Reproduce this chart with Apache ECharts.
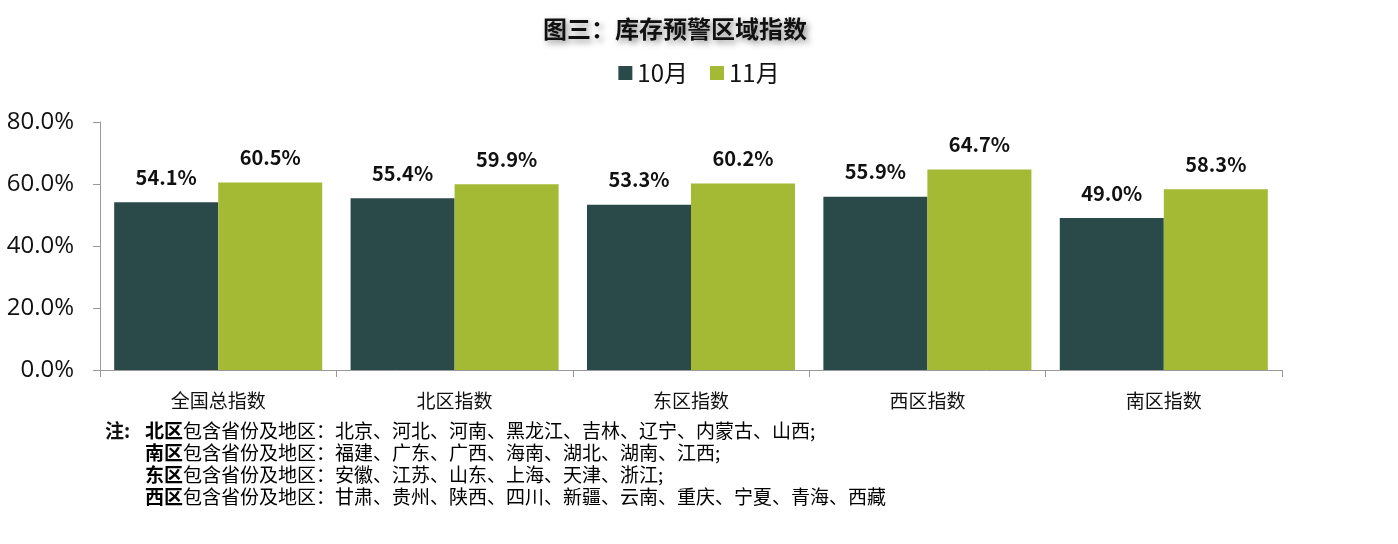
<!DOCTYPE html>
<html><head><meta charset="utf-8">
<script src="https://cdn.jsdelivr.net/npm/echarts@6/dist/echarts.min.js"></script>
<style>html,body{margin:0;padding:0;background:#fff}#c{width:1398px;height:544px}</style>
</head><body><div id="c"></div>
<script>
const categories = ['全国总指数','北区指数','东区指数','西区指数','南区指数'];
const oct = [54.1, 55.4, 53.3, 55.9, 49.0];
const nov = [60.5, 59.9, 60.2, 64.7, 58.3];
const seriesNames = ['10月','11月'];
const titleText = '图三：库存预警区域指数';
const noteLines = [
  ['北区','包含省份及地区：北京、河北、河南、黑龙江、吉林、辽宁、内蒙古、山西;'],
  ['南区','包含省份及地区：福建、广东、广西、海南、湖北、湖南、江西;'],
  ['东区','包含省份及地区：安徽、江苏、山东、上海、天津、浙江;'],
  ['西区','包含省份及地区：甘肃、贵州、陕西、四川、新疆、云南、重庆、宁夏、青海、西藏']
];
const FONT = '"Noto Sans CJK SC","Open Sans",sans-serif';
const chart = echarts.init(document.getElementById('c'));
const labelOpt = {show:true, position:'top', distance:15, fontSize:20, fontWeight:'bold', color:'#111', fontFamily:FONT,
  formatter: p => p.value.toFixed(1) + '%'};
const graphics = [{type:'text', left:105, top:421, style:{text:'注:', font:'bold 19px '+FONT, fill:'#111'}}];
noteLines.forEach((l,i)=>{
  graphics.push({type:'text', left:145, top:421 + i*22, style:{
    text:'{b|'+l[0]+'}{n|'+l[1]+'}',
    rich:{b:{fontWeight:'bold', fontSize:19, fontFamily:FONT, color:'#111'},
          n:{fontSize:19, fontFamily:FONT, color:'#111'}}
  }});
});
chart.setOption({
  animation:false,
  textStyle:{fontFamily:FONT},
  title:{text:titleText, left:538, top:12, textStyle:{fontSize:24, fontWeight:'bold', color:'#111', fontFamily:FONT,
    textShadowColor:'rgba(0,0,0,0.45)', textShadowBlur:6, textShadowOffsetX:3, textShadowOffsetY:3}},
  legend:{data:seriesNames, top:56, left:'center', itemWidth:14, itemHeight:14, itemGap:22,
    textStyle:{fontSize:24, color:'#111', fontFamily:FONT}, icon:'rect'},
  grid:{left:100, right:116, top:122, bottom:174},
  xAxis:{type:'category', data:categories,
    axisLine:{lineStyle:{color:'#999'}}, axisTick:{show:true, length:7, lineStyle:{color:'#999'}},
    axisLabel:{fontSize:19, color:'#111', margin:21, fontFamily:FONT}},
  yAxis:{type:'value', min:0, max:80, interval:20,
    axisLine:{show:true, lineStyle:{color:'#999'}}, axisTick:{show:true, length:7, lineStyle:{color:'#999'}},
    splitLine:{show:false},
    axisLabel:{fontSize:24, color:'#111', margin:26, fontFamily:'"Open Sans",sans-serif', formatter:v=>v.toFixed(1)+'%'}},
  series:[
    {name:seriesNames[0], type:'bar', data:oct, barGap:'0%', barCategoryGap:'12%', itemStyle:{color:'#2A4A4A'}, label:labelOpt},
    {name:seriesNames[1], type:'bar', data:nov, barGap:'0%', barCategoryGap:'12%', itemStyle:{color:'#A4B934'}, label:labelOpt}
  ],
  graphic:graphics
});
</script></body></html>
